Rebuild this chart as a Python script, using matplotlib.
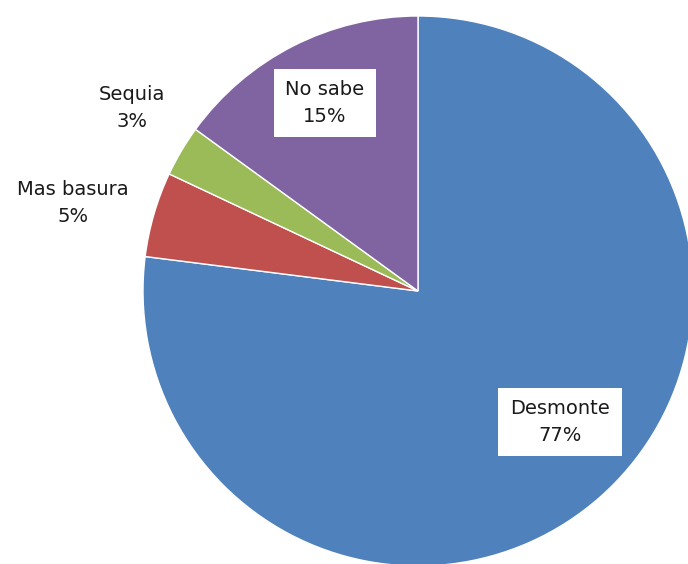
import matplotlib.pyplot as plt

labels = ["Desmonte", "Mas basura", "Sequia", "No sabe"]
values = [77, 5, 3, 15]
colors = ["#4F81BD", "#C0504D", "#9BBB59", "#8064A2"]

W, H = 688, 564
fig = plt.figure(figsize=(W / 100, H / 100), dpi=100)
ax = fig.add_axes([0, 0, 1, 1])

cx, cy, r = 418, H - 291, 275
ax.pie(values, colors=colors, startangle=90, counterclock=False,
       radius=r, center=(cx, cy), frame=True,
       wedgeprops=dict(edgecolor="white", linewidth=1))
ax.set_xlim(0, W)
ax.set_ylim(0, H)
ax.set_aspect("equal")
ax.axis("off")

# label centres in pixels (x, y from top)
pos = {"Desmonte": (560, 422), "Mas basura": (73, 203),
       "Sequia": (132, 108), "No sabe": (325, 103)}
boxed = {"Desmonte", "No sabe"}
for lab, v in zip(labels, values):
    x, y = pos[lab]
    kw = {}
    if lab in boxed:
        kw["bbox"] = dict(boxstyle="square,pad=0.6", facecolor="white",
                          edgecolor="none")
    ax.text(x, H - y, "%s\n%d%%" % (lab, v), ha="center", va="center",
            fontsize=14, color="#1a1a1a", linespacing=1.5, **kw)

fig.savefig("out.png", dpi=100)
